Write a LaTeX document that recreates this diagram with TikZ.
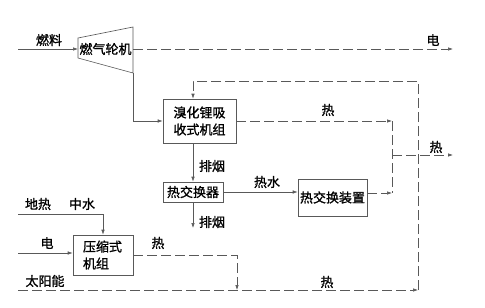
\documentclass[tikz,border=0pt]{standalone}
\usepackage{fontspec}
\newfontfamily\cjk[FakeBold=1.2]{Noto Sans CJK SC}
\usepackage{tikz}
\usetikzlibrary{positioning,arrows.meta,calc}

\begin{document}
\begin{tikzpicture}[x=1pt,y=-1pt,
  >={Latex[length=5pt,width=3.5pt]},
  every node/.style={font=\cjk\fontsize{13}{17}\selectfont},
  box/.style={draw=gray!70!black, line width=0.6pt, inner sep=1pt, align=center},
  flow/.style={draw=gray!70!black, line width=0.6pt},
  heat/.style={flow, dash pattern=on 10pt off 4pt},
  lbl/.style={inner sep=1pt}]
  \useasboundingbox (0,0) rectangle (485,308);
  % gas turbine
  \draw[flow] (78,38) -- (133,27) -- (133,73) -- (78,58) -- cycle;
  \node (gt) at (105.5,49) {燃气轮机};
  \coordinate (gtin)  at (78,49);
  \coordinate (gtout) at (133,49);
  \coordinate (gtex)  at (133,73);
  % units
  \node[box, minimum width=73, minimum height=44] (libr) at (199.5,121) {溴化锂吸\\收式机组};
  \node[box, minimum width=60, minimum height=20] (hx)   at (193,192)   {热交换器};
  \node[box, minimum width=69, minimum height=37] (dev)  at (332.5,197.5) {热交换装置};
  \node[box, minimum width=60, minimum height=40, text width=40, align=left] (comp) at (103,255) {压缩式\\机组};
  % free ends
  \coordinate (fuel)    at (18,49);
  \coordinate (elec)    at (453,49);
  \coordinate (jt)      at (392,121);
  \coordinate (jm)      at (392,155);
  \coordinate (jb)      at (392,193);
  \coordinate (heatout) at (453,155);
  \coordinate (smoke)   at (193,228);
  \coordinate (geo)     at (18,214);
  \coordinate (pwr)     at (18,253);
  \coordinate (solar)   at (18,290);
  \coordinate (sr)      at (418,290);
  \coordinate (st)      at (418,81);
  \coordinate (cp)      at (237,290);
  % turbine in/out
  \draw[flow,->] (fuel) -- (gtin);
  \draw[heat,->] (gtout) -- (elec);
  \draw[flow,->] (gtex) |- (libr.west);
  % flue gas and hot water
  \draw[flow,->] (hx.north |- libr.south) -- (hx.north);
  \draw[flow,->] (hx.south) -- (smoke);
  \draw[flow,->] (hx.east) -- (hx.east -| dev.west);
  % heat out
  \draw[heat,->] (libr.east) -- (jt);
  \draw[heat,->] (dev.east |- jb) -- (jb);
  \draw[heat] (jt) -- (jb);
  \draw[heat,->] (jm) -- (heatout);
  % solar loop
  \draw[heat,->] (solar) -- (sr);
  \draw[heat,->] (sr) -- (st) -| (hx.north |- libr.north);
  % heat pump
  \draw[flow,->] (geo) -| (comp.north);
  \draw[flow,->] (pwr) -- (pwr -| comp.west);
  \draw[heat,->] (comp.east) -| (cp);
  % labels
  \node[lbl] (lfuel)  at (49,40)   {燃料};
  \node[lbl] (lelec)  at (433,40)  {电};
  \node[lbl] (lheat1) at (328,110) {热};
  \node[lbl] (lheat2) at (436,147) {热};
  \node[lbl] (lsmk1)  at (212,166) {排烟};
  \node[lbl] (lsmk2)  at (212,222) {排烟};
  \node[lbl] (lwater) at (267,182) {热水};
  \node[lbl] (lgeo)   at (38,204)  {地热};
  \node[lbl] (lmid)   at (82,204)  {中水};
  \node[lbl] (lpwr)   at (47,243)  {电};
  \node[lbl] (lheat3) at (158,243) {热};
  \node[lbl] (lsolar) at (45,281)  {太阳能};
  \node[lbl] (lheat4) at (327,282) {热};
\end{tikzpicture}
\end{document}
